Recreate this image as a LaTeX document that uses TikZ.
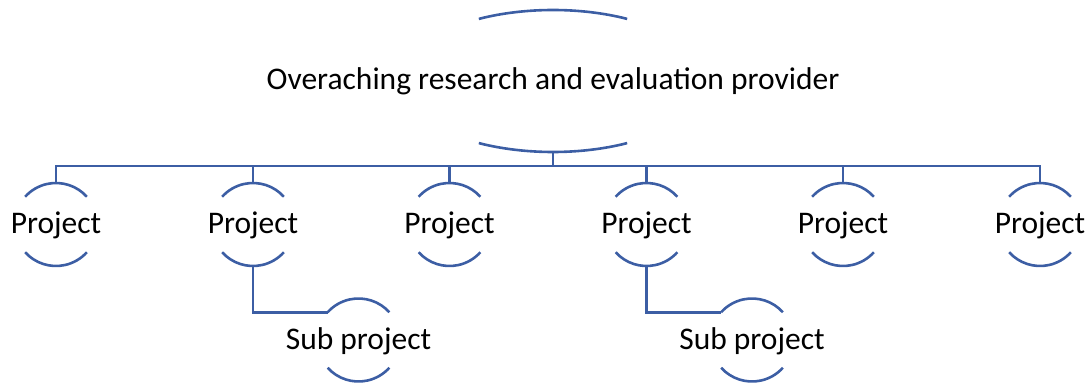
\documentclass[tikz,border=0pt]{standalone}
\usepackage{fontspec}
\setmainfont{Carlito}
\usepackage{tikz}
\usetikzlibrary{shapes.geometric,positioning}

\definecolor{chartblue}{RGB}{60,94,164}

\tikzset{
  cline/.style={chartblue, line width=2.6pt},
  unit/.style={circle, minimum size=83pt, inner sep=0pt, outer sep=0pt, font=\fontsize{31.5}{37}\selectfont},
  topunit/.style={ellipse, minimum width=306pt, minimum height=142pt, inner sep=0pt, outer sep=0pt, font=\fontsize{31.5}{37}\selectfont}
}

% text of a unit, baseline a little under its centre
\newcommand{\unittext}[1]{\makebox[0pt]{\raisebox{-9pt}[0pt][0pt]{#1}}}

% top and bottom arcs of a round unit
\newcommand{\unitarcs}[1]{%
  \draw[cline] (#1.42) arc[start angle=42, end angle=138, radius=41.5pt];
  \draw[cline] (#1.222) arc[start angle=222, end angle=318, radius=41.5pt];}

\begin{document}
\begin{tikzpicture}[x=1pt, y=1pt]
            \useasboundingbox (0,0) rectangle (1089,383);

            \node[topunit] (prov) at (553,302) {\unittext{Overaching research and evaluation provider}};

            \node[unit] (p1) at (56,158.5) {\unittext{Project}};
            \node[unit] (p2) at (253,158.5) {\unittext{Project}};
            \node[unit] (p3) at (449.5,158.5) {\unittext{Project}};
            \node[unit] (p4) at (646.5,158.5) {\unittext{Project}};
            \node[unit] (p5) at (843,158.5) {\unittext{Project}};
            \node[unit] (p6) at (1040,158.5) {\unittext{Project}};

            \node[unit] (s1) at (358.5,43) {\unittext{Sub project}};
            \node[unit] (s2) at (752,43) {\unittext{Sub project}};

            \coordinate[below=14pt of prov.south] (hub);

            % arcs
            \draw[cline] ([shift={(61:153 and 71)}]prov.center) arc[start angle=61, end angle=119, x radius=153pt, y radius=71pt];
            \draw[cline] ([shift={(241:153 and 71)}]prov.center) arc[start angle=241, end angle=299, x radius=153pt, y radius=71pt];
            \unitarcs{p1}
            \unitarcs{p2}
            \unitarcs{p3}
            \unitarcs{p4}
            \unitarcs{p5}
            \unitarcs{p6}
            \unitarcs{s1}
            \unitarcs{s2}

            % connectors
            \draw[cline] (prov.south) -- (hub);
            \draw[cline] (hub) -| (p1.north);
            \draw[cline] (hub) -| (p2.north);
            \draw[cline] (hub) -| (p3.north);
            \draw[cline] (hub) -| (p4.north);
            \draw[cline] (hub) -| (p5.north);
            \draw[cline] (hub) -| (p6.north);

            \draw[cline] (p2.south) |- (s1.138);
            \draw[cline] (p4.south) |- (s2.138);

\end{tikzpicture}
\end{document}
